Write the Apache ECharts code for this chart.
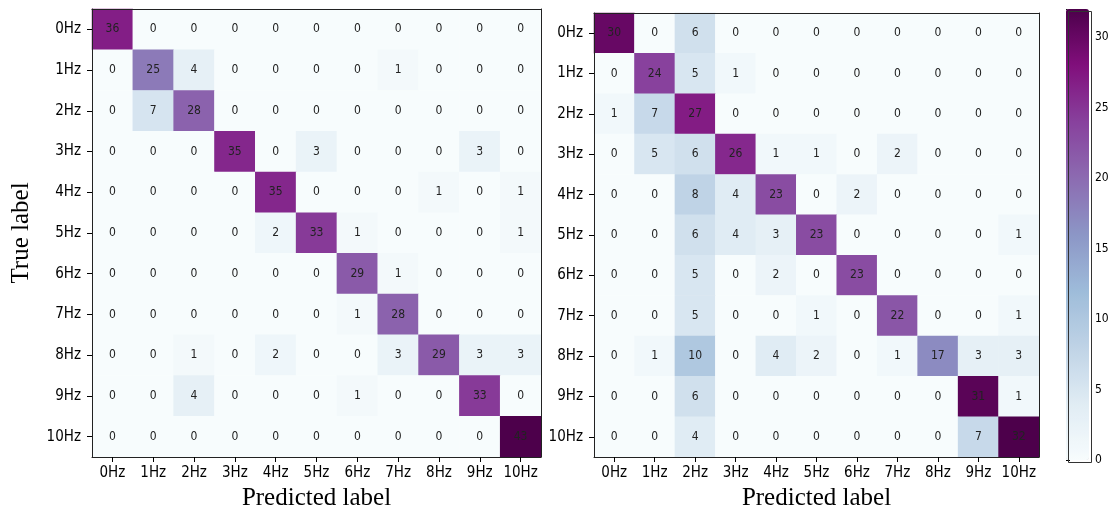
<!DOCTYPE html>
<html lang="en">
<head>
<meta charset="UTF-8">
<title>Confusion matrices</title>
<script src="https://cdn.jsdelivr.net/npm/echarts@6/dist/echarts.min.js"></script>
<style>
  html, body { margin: 0; padding: 0; background: #fff; }
  #container { width: 1115px; height: 511px; }
</style>
</head>
<body>
<div id="container"></div>
<script>
  // class labels (true = rows, predicted = columns)
  var labels = ['0Hz', '1Hz', '2Hz', '3Hz', '4Hz', '5Hz', '6Hz', '7Hz', '8Hz', '9Hz', '10Hz'];

  // left matrix
  var matrixLeft = [
    [36, 0, 0, 0, 0, 0, 0, 0, 0, 0, 0],
    [0, 25, 4, 0, 0, 0, 0, 1, 0, 0, 0],
    [0, 7, 28, 0, 0, 0, 0, 0, 0, 0, 0],
    [0, 0, 0, 35, 0, 3, 0, 0, 0, 3, 0],
    [0, 0, 0, 0, 35, 0, 0, 0, 1, 0, 1],
    [0, 0, 0, 0, 2, 33, 1, 0, 0, 0, 1],
    [0, 0, 0, 0, 0, 0, 29, 1, 0, 0, 0],
    [0, 0, 0, 0, 0, 0, 1, 28, 0, 0, 0],
    [0, 0, 1, 0, 2, 0, 0, 3, 29, 3, 3],
    [0, 0, 4, 0, 0, 0, 1, 0, 0, 33, 0],
    [0, 0, 0, 0, 0, 0, 0, 0, 0, 0, 43]
  ];

  // right matrix
  var matrixRight = [
    [30, 0, 6, 0, 0, 0, 0, 0, 0, 0, 0],
    [0, 24, 5, 1, 0, 0, 0, 0, 0, 0, 0],
    [1, 7, 27, 0, 0, 0, 0, 0, 0, 0, 0],
    [0, 5, 6, 26, 1, 1, 0, 2, 0, 0, 0],
    [0, 0, 8, 4, 23, 0, 2, 0, 0, 0, 0],
    [0, 0, 6, 4, 3, 23, 0, 0, 0, 0, 1],
    [0, 0, 5, 0, 2, 0, 23, 0, 0, 0, 0],
    [0, 0, 5, 0, 0, 1, 0, 22, 0, 0, 1],
    [0, 1, 10, 0, 4, 2, 0, 1, 17, 3, 3],
    [0, 0, 6, 0, 0, 0, 0, 0, 0, 31, 1],
    [0, 0, 4, 0, 0, 0, 0, 0, 0, 7, 32]
  ];

  var colorbarTicks = [0, 5, 10, 15, 20, 25, 30];

  // matplotlib BuPu
  var buPu = ['#f7fcfd', '#e0ecf4', '#bfd3e6', '#9ebcda', '#8c96c6', '#8c6bb1', '#88419d', '#810f7c', '#4d004b'];

  function toCells(m) {
    var out = [];
    for (var r = 0; r < m.length; r++) {
      for (var c = 0; c < m[r].length; c++) {
        out.push([c, r, m[r][c]]);
      }
    }
    return out;
  }
  function maxOf(m) {
    var mx = 0;
    m.forEach(function (row) { row.forEach(function (v) { if (v > mx) mx = v; }); });
    return mx;
  }

  var tickFont = 'DejaVu Sans Condensed, Liberation Sans Narrow, sans-serif';
  var titleFont = 'Liberation Serif, Times New Roman, serif';
  var frameLine = { show: true, onZero: false, lineStyle: { color: '#222', width: 1 } };

  function xAxisFor(gridIndex) {
    return {
      type: 'category', gridIndex: gridIndex, data: labels, z: 10,
      name: 'Predicted label', nameLocation: 'middle', nameGap: 27,
      nameTextStyle: { fontFamily: titleFont, fontSize: 25, color: '#000' },
      axisLine: frameLine,
      axisTick: { show: true, alignWithLabel: true, interval: 0, length: 5, lineStyle: { color: '#000' } },
      axisLabel: { fontFamily: tickFont, fontSize: 15, color: '#000', margin: 9, interval: 0 },
      splitLine: { show: false }
    };
  }
  function yAxisFor(gridIndex, withName) {
    var ax = {
      type: 'category', gridIndex: gridIndex, data: labels, inverse: true, z: 10,
      axisLine: frameLine,
      axisTick: { show: true, alignWithLabel: true, interval: 0, length: 5, lineStyle: { color: '#000' } },
      axisLabel: { fontFamily: tickFont, fontSize: 15, color: '#000', margin: 11, interval: 0 },
      splitLine: { show: false }
    };
    if (withName) {
      ax.name = 'True label';
      ax.nameLocation = 'middle';
      ax.nameGap = 58;
      ax.nameTextStyle = { fontFamily: titleFont, fontSize: 25, color: '#000' };
    }
    return ax;
  }
  // top / right frame edges of each matrix
  function frameAxis(gridIndex, pos) {
    return {
      type: 'category', gridIndex: gridIndex, data: labels, position: pos, z: 10,
      axisLine: frameLine, axisTick: { show: false }, axisLabel: { show: false }, splitLine: { show: false }
    };
  }

  function heatSeries(idx, m) {
    return {
      type: 'heatmap', xAxisIndex: idx, yAxisIndex: idx, data: toCells(m),
      label: { show: true, color: '#222', fontSize: 12, fontFamily: tickFont },
      emphasis: { disabled: true },
      itemStyle: { borderWidth: 0 }
    };
  }

  var chart = echarts.init(document.getElementById('container'));
  var option = {
    backgroundColor: '#fff',
    animation: false,
    grid: [
      { left: 92, top: 9, width: 449, height: 448, outerBoundsMode: 'none' },
      { left: 594, top: 13, width: 445, height: 444, outerBoundsMode: 'none' },
      { left: 1066, top: 9, width: 23, height: 451, outerBoundsMode: 'none' }
    ],
    xAxis: [
      xAxisFor(0),
      xAxisFor(1),
      { type: 'value', gridIndex: 2, show: false, min: 0, max: 1 },
      frameAxis(0, 'top'),
      frameAxis(1, 'top')
    ],
    yAxis: [
      yAxisFor(0, true),
      yAxisFor(1, false),
      {
        type: 'value', gridIndex: 2, position: 'right', min: 0, max: maxOf(matrixRight), interval: 5,
        axisLine: { show: false },
        axisTick: { show: true, length: 4, lineStyle: { color: '#000' } },
        axisLabel: {
          fontFamily: tickFont, fontSize: 12, color: '#000', margin: 6,
          formatter: function (v) { return colorbarTicks.indexOf(v) >= 0 ? String(v) : ''; }
        },
        splitLine: { show: false }
      },
      frameAxis(0, 'right'),
      frameAxis(1, 'right')
    ],
    visualMap: [
      {
        type: 'continuous', seriesIndex: 0, min: 0, max: maxOf(matrixLeft),
        show: false, inRange: { color: buPu }
      },
      {
        type: 'continuous', seriesIndex: 1, min: 0, max: maxOf(matrixRight),
        show: true, calculable: false, orient: 'vertical',
        left: 1066, top: 9, padding: 0, itemWidth: 23, itemHeight: 451,
        text: null, showLabel: false, hoverLink: false, indicatorSize: 0,
        inRange: { color: buPu }
      }
    ],
    graphic: [
      {
        type: 'rect', left: 1066, top: 9, z: 100,
        shape: { width: 23, height: 451 },
        style: { fill: 'none', stroke: '#333', lineWidth: 1 }
      }
    ],
    series: [
      heatSeries(0, matrixLeft),
      heatSeries(1, matrixRight)
    ]
  };
  chart.setOption(option);
</script>
</body>
</html>
